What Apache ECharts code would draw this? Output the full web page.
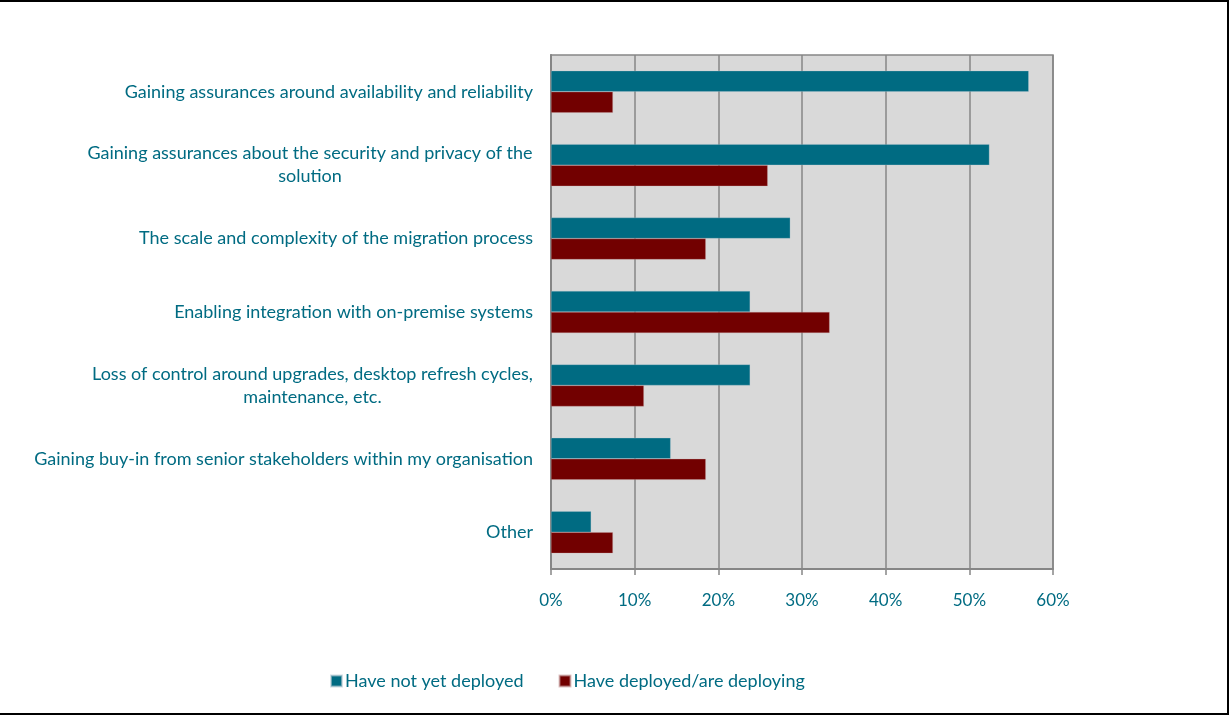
<!DOCTYPE html>
<html>
<head>
<meta charset="utf-8">
<script src="https://cdn.jsdelivr.net/npm/echarts@6/dist/echarts.min.js"></script>
<style>
html,body{margin:0;padding:0;background:#fff;}
#frame{position:absolute;left:0;top:0;width:1227px;height:711px;border-top:2px solid #000;border-right:2px solid #000;border-bottom:2px solid #000;}
#chart{position:absolute;left:0;top:0;width:1229px;height:715px;}
</style>
</head>
<body>
<div id="frame"></div>
<div id="chart"></div>
<script>
const categories = [
  "Gaining assurances around availability and reliability",
  "Gaining assurances about the security and privacy of the\nsolution",
  "The scale and complexity of the migration process",
  "Enabling integration with on-premise systems",
  "Loss of control around upgrades, desktop refresh cycles,\nmaintenance, etc.",
  "Gaining buy-in from senior stakeholders within my organisation",
  "Other"
];
const seriesNames = ["Have not yet deployed", "Have deployed/are deploying"];
const notYetDeployed = [57.1, 52.4, 28.6, 23.8, 23.8, 14.3, 4.8];
const deployed = [7.4, 25.9, 18.5, 33.3, 11.1, 18.5, 7.4];
const xTicks = [0, 10, 20, 30, 40, 50, 60];

const TEAL = '#006B82';
const RED = '#720000';
const FONT = 'Lato';
const LABEL_SIZE = 18;

function draw() {
  const rich = {};
  const labelMap = {};
  categories.forEach((v, i) => {
    const lines = v.split('\n');
    if (lines.length === 1) { labelMap[v] = v; return; }
    const w = Math.ceil(Math.max(...lines.map(l =>
      echarts.format.getTextRect ? 0 : 0)));
    const key = 'c' + i;
    const ctx = document.createElement('canvas').getContext('2d');
    ctx.font = LABEL_SIZE + 'px ' + FONT;
    const width = Math.ceil(Math.max(...lines.map(l => ctx.measureText(l).width)));
    rich[key] = {align: 'center', width: width, color: TEAL, fontSize: LABEL_SIZE, fontFamily: FONT, lineHeight: 23};
    labelMap[v] = lines.map(l => '{' + key + '|' + l + '}').join('\n');
  });

  const chart = echarts.init(document.getElementById('chart'), null, {renderer: 'canvas'});
  chart.setOption({
    animation: false,
    textStyle: {fontFamily: FONT},
    grid: {
      left: 551, right: 176, top: 55, bottom: 146,
      show: true, backgroundColor: '#D9D9D9', borderColor: '#868686', borderWidth: 1.5
    },
    legend: {
      bottom: 20, left: 325,
      itemWidth: 11, itemHeight: 11, itemGap: 35,
      icon: 'rect',
      textStyle: {color: TEAL, fontSize: 18, fontFamily: FONT, padding: [0, 0, 0, -2]},
      data: seriesNames
    },
    xAxis: {
      type: 'value', min: xTicks[0], max: xTicks[xTicks.length - 1], interval: 10,
      axisLine: {show: true, lineStyle: {color: '#868686', width: 2}},
      axisTick: {show: true, length: 6, lineStyle: {color: '#868686', width: 1.5}},
      splitLine: {show: true, lineStyle: {color: '#868686', width: 1.5}},
      axisLabel: {color: TEAL, fontSize: 17, margin: 23, formatter: v => v + '%'}
    },
    yAxis: {
      type: 'category', inverse: true, data: categories,
      axisLine: {show: true, lineStyle: {color: '#868686', width: 2}},
      axisTick: {show: false},
      axisLabel: {color: TEAL, fontSize: LABEL_SIZE, margin: 18, lineHeight: 23, align: 'right',
        formatter: v => labelMap[v], rich: rich}
    },
    series: [
      {name: seriesNames[0], type: 'bar', data: notYetDeployed, barWidth: 21, barGap: '0%',
       itemStyle: {color: TEAL, borderColor: 'rgba(180,200,210,0.6)', borderWidth: 0.5}},
      {name: seriesNames[1], type: 'bar', data: deployed, barWidth: 21, barGap: '0%',
       itemStyle: {color: RED, borderColor: 'rgba(200,160,160,0.6)', borderWidth: 0.5}}
    ]
  });
}

if (document.fonts && document.fonts.load) {
  document.fonts.load(LABEL_SIZE + 'px ' + FONT).then(draw, draw);
} else {
  draw();
}
</script>
</body>
</html>
